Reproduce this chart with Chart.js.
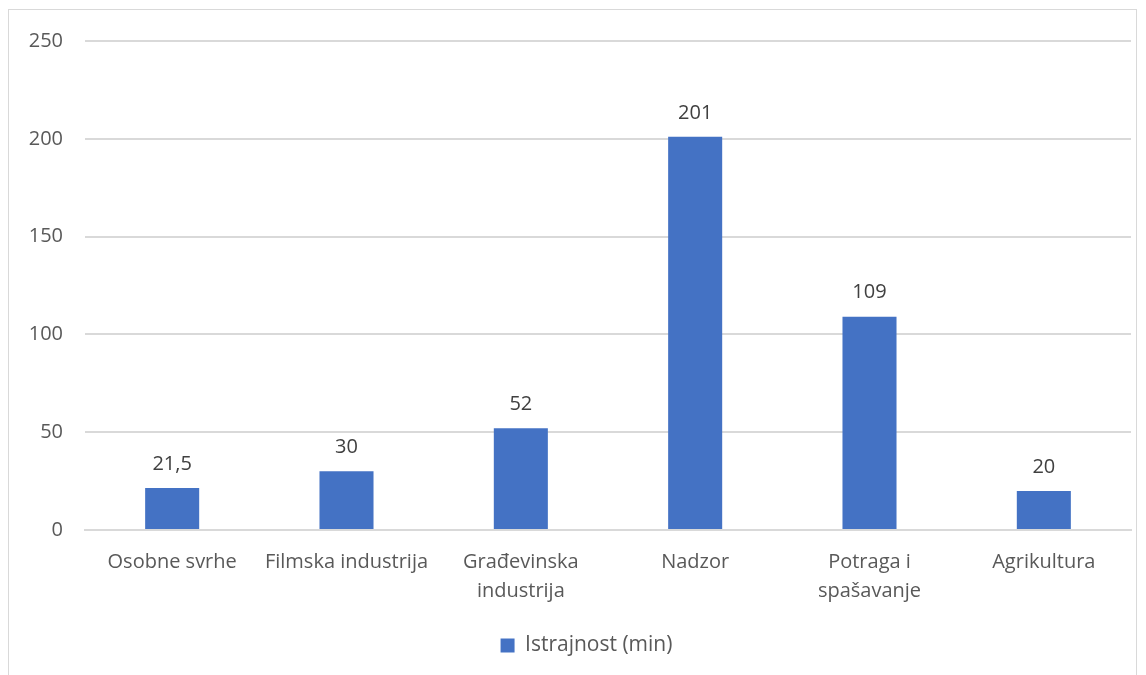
<!DOCTYPE html>
<html>
<head>
<meta charset="utf-8">
<script src="https://cdn.jsdelivr.net/npm/chart.js@4"></script>
<style>
  html, body { margin: 0; padding: 0; background: #fff; overflow: hidden; }
  #frame {
    position: absolute; left: 8px; top: 9px; width: 1129px; height: 700px;
    border: 1px solid #d9d9d9; box-sizing: border-box;
  }
  #wrap { position: absolute; left: 1px; top: 1px; width: 1127px; height: 665px; }
</style>
</head>
<body>
<div id="frame"><div id="wrap"><canvas id="chart"></canvas></div></div>
<script>
const categories = [
  "Osobne svrhe",
  "Filmska industrija",
  ["Građevinska", "industrija"],
  "Nadzor",
  ["Potraga i", "spašavanje"],
  "Agrikultura",
];
const endurance = [21.5, 30, 52, 201, 109, 20];
const seriesName = "Istrajnost (min)";
const yTicks = [0, 50, 100, 150, 200, 250];

const font = "'Open Sans', sans-serif";

const barLabels = {
  id: "barLabels",
  afterDatasetsDraw(chart) {
    const c = chart.ctx;
    const meta = chart.getDatasetMeta(0);
    c.save();
    c.font = "20px " + font;
    c.fillStyle = "#404040";
    c.textAlign = "center";
    c.textBaseline = "bottom";
    meta.data.forEach((bar, i) => {
      const text = endurance[i].toLocaleString("hr-HR");
      c.fillText(text, bar.x, bar.y - 14);
    });
    c.restore();
  },
};

// excel centres the legend on the plot area, not the whole canvas
const legendShift = {
  id: "legendShift",
  afterLayout(chart) {
    chart.legend.left += 16;
    chart.legend.right += 16;
  },
};

new Chart(document.getElementById("chart"), {
  type: "bar",
  data: {
    labels: categories,
    datasets: [
      {
        label: seriesName,
        data: endurance,
        backgroundColor: "#4472c4",
        barPercentage: 0.31,
        categoryPercentage: 1,
      },
    ],
  },
  options: {
    responsive: true,
    maintainAspectRatio: false,
    animation: false,
    layout: { padding: { top: 30, right: 6, left: 0, bottom: 10 } },
    plugins: {
      legend: {
        position: "bottom",
        labels: {
          color: "#595959",
          font: { family: font, size: 21 },
          boxWidth: 14,
          boxHeight: 14,
          padding: 12,
        },
      },
      tooltip: { enabled: false },
    },
    scales: {
      x: {
        grid: { display: false },
        border: { display: true, color: "#d9d9d9", width: 2 },
        ticks: {
          color: "#595959",
          font: { family: font, size: 20, lineHeight: 1.45 },
          padding: 10,
          maxRotation: 0,
          autoSkip: false,
        },
        afterFit(scale) { scale.height = 93; },
      },
      y: {
        min: 0,
        max: 250,
        afterBuildTicks(scale) { scale.ticks = yTicks.map(v => ({ value: v })); },
        grid: { color: "#d9d9d9", lineWidth: 2, drawTicks: false },
        border: { display: false },
        ticks: {
          color: "#595959",
          font: { family: font, size: 20 },
          padding: 22,
        },
        afterFit(scale) {
          scale.width = 75;
          scale.paddingTop = 0;
          scale.paddingBottom = 0;
        },
      },
    },
  },
  plugins: [barLabels, legendShift],
});
</script>
</body>
</html>
